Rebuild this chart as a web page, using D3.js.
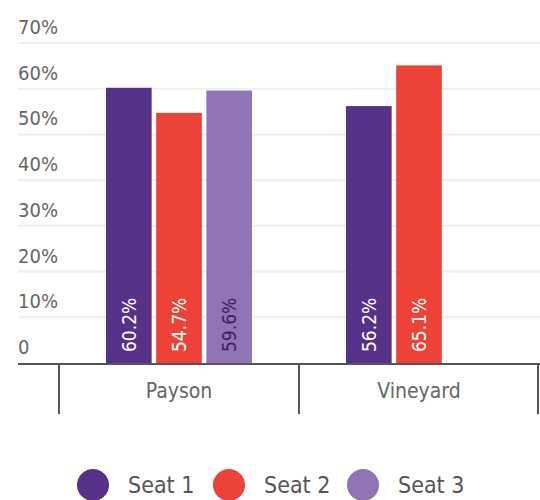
<!DOCTYPE html>
<html>
<head>
<meta charset="utf-8">
<script src="https://cdn.jsdelivr.net/npm/d3@7"></script>
<style>
  body { margin: 0; background: #fff; }
  svg text { font-family: "Liberation Sans Narrow", "DejaVu Sans Condensed", "Roboto Condensed", sans-serif; }
</style>
</head>
<body>
<svg id="chart" width="540" height="500"></svg>
<script>
const cities = ["Payson", "Vineyard"];
const seats = ["Seat 1", "Seat 2", "Seat 3"];
const payson = [60.2, 54.7, 59.6];
const vineyard = [56.2, 65.1, null];
const yTicks = [0, 10, 20, 30, 40, 50, 60, 70];
const colors = ["#55318a", "#ec4238", "#9174b3"];
const labelColors = ["#fff", "#fff", "#3a2264"];

const rows = [payson, vineyard];

const svg = d3.select("#chart");

const x0 = d3.scaleBand().domain(cities).range([59, 539]);
const x1 = d3.scaleBand().domain(seats).range([47, 193]).paddingInner(0.09);
const y = d3.scaleLinear().domain([0, 70]).range([363, 43]);

// gridlines + y labels
const grid = svg.append("g");
grid.selectAll("line")
    .data(yTicks.filter(d => d > 0))
    .enter().append("line")
    .attr("x1", 18).attr("x2", 540)
    .attr("y1", d => y(d)).attr("y2", d => y(d))
    .attr("stroke", "#eeeeee").attr("stroke-width", 2);
grid.selectAll("text")
    .data(yTicks)
    .enter().append("text")
    .attr("x", 18)
    .attr("y", d => y(d) - 9)
    .attr("fill", "#666")
    .attr("font-size", 20)
    .text(d => d === 0 ? "0" : d + "%");

// bars
const groups = svg.selectAll(".city")
    .data(cities)
    .enter().append("g")
    .attr("class", "city")
    .attr("transform", d => `translate(${x0(d)},0)`);

groups.each(function(city, i) {
  const g = d3.select(this);
  const vals = seats.map((s, j) => ({ seat: s, j: j, v: rows[i][j] })).filter(d => d.v != null);
  g.selectAll("rect")
    .data(vals)
    .enter().append("rect")
    .attr("x", d => x1(d.seat))
    .attr("width", x1.bandwidth())
    .attr("y", d => y(d.v))
    .attr("height", d => y(0) - y(d.v))
    .attr("fill", d => colors[d.j]);
  g.selectAll("text")
    .data(vals)
    .enter().append("text")
    .attr("transform", d => `translate(${x1(d.seat) + x1.bandwidth() / 2 + 7},${y(0) - 11}) rotate(-90)`)
    .attr("fill", d => labelColors[d.j])
    .attr("font-size", 19)
    .text(d => d.v.toFixed(1) + "%");
});

// x axis
const xAxis = svg.append("g");
xAxis.append("line")
    .attr("x1", 18).attr("x2", 540)
    .attr("y1", y(0) + 1).attr("y2", y(0) + 1)
    .attr("stroke", "#555").attr("stroke-width", 2);
xAxis.selectAll(".tick")
    .data([...cities.map(c => x0(c)), x0.range()[1] - 1])
    .enter().append("line")
    .attr("x1", d => d).attr("x2", d => d)
    .attr("y1", y(0)).attr("y2", 414)
    .attr("stroke", "#555").attr("stroke-width", 2);
xAxis.selectAll("text")
    .data(cities)
    .enter().append("text")
    .attr("x", d => x0(d) + x0.bandwidth() / 2)
    .attr("y", 398)
    .attr("text-anchor", "middle")
    .attr("fill", "#666")
    .attr("font-size", 21)
    .text(d => d);

// legend
const legendX = [93, 229, 363];
const legend = svg.selectAll(".legend")
    .data(seats)
    .enter().append("g")
    .attr("transform", (d, i) => `translate(${legendX[i]},485)`);
legend.append("circle").attr("r", 16).attr("fill", (d, i) => colors[i]);
legend.append("text")
    .attr("x", 35).attr("y", 8)
    .attr("fill", "#555")
    .attr("font-size", 23)
    .text(d => d);
</script>
</body>
</html>
